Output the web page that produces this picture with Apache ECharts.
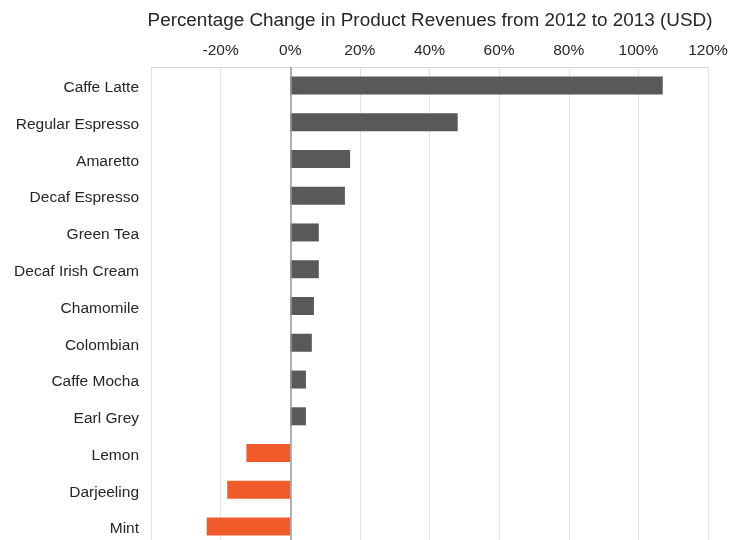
<!DOCTYPE html>
<html>
<head>
<meta charset="utf-8">
<script src="https://cdn.jsdelivr.net/npm/echarts@6/dist/echarts.min.js"></script>
<style>
    html, body { margin: 0; padding: 0; background: #fff; }
    #chart { width: 729px; height: 540px; }
</style>
</head>
<body>
<div id="chart"></div>
<script>
    // products, top to bottom
    var categories = ['Caffe Latte', 'Regular Espresso', 'Amaretto', 'Decaf Espresso', 'Green Tea',
        'Decaf Irish Cream', 'Chamomile', 'Colombian', 'Caffe Mocha', 'Earl Grey', 'Lemon', 'Darjeeling', 'Mint'];
    // percent change 2012 -> 2013
    var changes = [107, 48.1, 17.2, 15.7, 8.2, 8.2, 6.8, 6.2, 4.5, 4.5, -12.6, -18.1, -24];
    var tickMin = -40;
    var tickMax = 120;
    var tickStep = 20;

    var posColor = '#58595B';
    var negColor = '#F15A2B';

    var myChart = echarts.init(document.getElementById('chart'));

    var option = {
        animation: false,
        title: {
            text: 'Percentage Change in Product Revenues from 2012 to 2013 (USD)',
            left: 425,
            textAlign: 'center',
            top: 6,
            textStyle: {
                fontFamily: 'Liberation Sans',
                fontSize: 18.9,
                fontWeight: 'normal',
                color: '#262626'
            }
        },
        grid: {
            left: 151,
            top: 67,
            width: 557,
            height: 478,
            outerBoundsMode: 'none' // bottom of plot is cut off by the canvas
        },
        xAxis: {
            type: 'value',
            position: 'top',
            min: tickMin,
            max: tickMax,
            interval: tickStep,
            axisLine: { show: true, lineStyle: { color: '#d9d9d9' } },
            axisTick: { show: false },
            splitLine: { lineStyle: { color: '#e3e3e3', width: 1 } },
            axisLabel: {
                margin: 8,
                color: '#262626',
                fontFamily: 'Liberation Sans',
                fontSize: 15.5,
                formatter: function (v) {
                    return v === tickMin ? '' : v + '%';
                }
            }
        },
        yAxis: {
            type: 'category',
            inverse: true,
            data: categories,
            axisLine: { show: false },
            axisTick: { show: false },
            axisLabel: {
                margin: 12,
                color: '#262626',
                fontFamily: 'Liberation Sans',
                fontSize: 15.5,
                formatter: function (v) {
                    return '{n|' + v + '}';
                },
                rich: {
                    n: {
                        fontFamily: 'Liberation Sans',
                        fontSize: 15.5,
                        color: '#262626',
                        padding: [5, 0, 0, 0]
                    }
                }
            }
        },
        series: [{
            type: 'bar',
            data: changes.map(function (v) {
                return { value: v, itemStyle: { color: v < 0 ? negColor : posColor } };
            }),
            barWidth: 18,
            markLine: {
                silent: true,
                symbol: 'none',
                label: { show: false },
                lineStyle: { color: '#9a9a9a', type: 'solid', width: 1.5 },
                data: [{ xAxis: 0 }]
            }
        }]
    };

    myChart.setOption(option);
</script>
</body>
</html>
